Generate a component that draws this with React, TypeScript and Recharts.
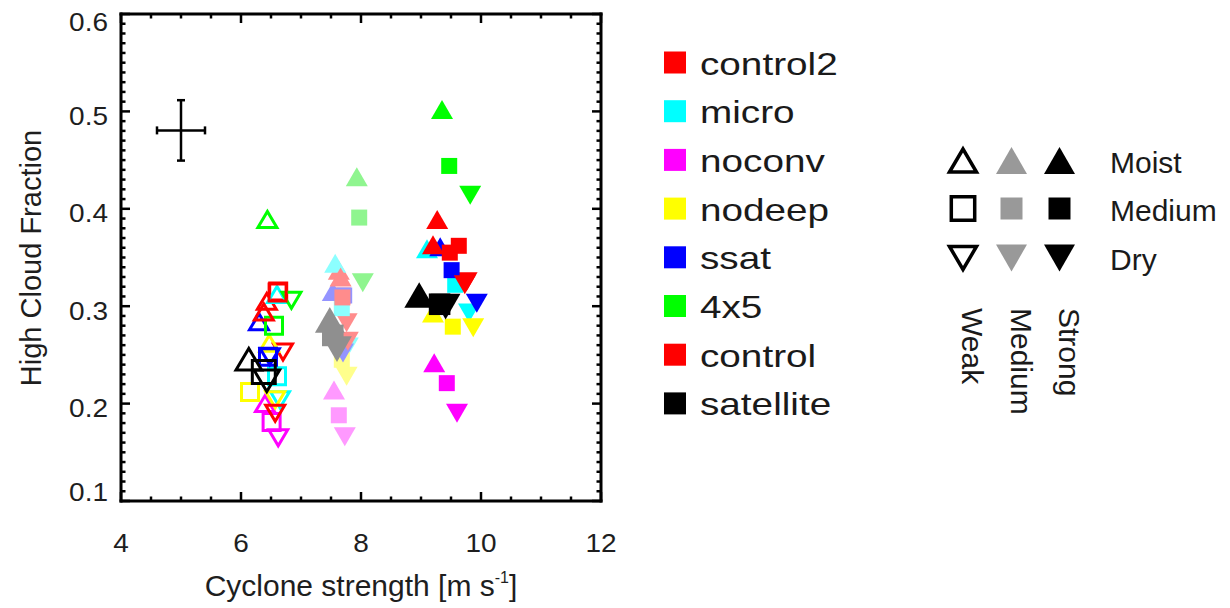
import React from 'react';
import { ScatterChart, Scatter, XAxis, YAxis, ErrorBar } from 'recharts';

const FONT = "'Liberation Sans', Arial, Helvetica, sans-serif";

const strengths = ['weak', 'medium', 'strong'];
const humidities = ['moist', 'medium', 'dry'];

const modelNames = ['control2', 'micro', 'noconv', 'nodeep', 'ssat', '4x5', 'control', 'satellite'];
const modelColors = ['#ff0000', '#00ffff', '#ff00ff', '#ffff00', '#0000ff', '#00ff00', '#ff0000', '#000000'];
const modelLight = ['#ff8c8c', '#8cffff', '#ff99ff', '#ffff8c', '#9494ff', '#8ff58f', '#ff8c8c', '#8f8f8f'];

// order: weak (moist, medium, dry), medium (moist, medium, dry), strong (moist, medium, dry)
const control2X = [6.43, 6.62, 6.7, 7.63, 7.7, 7.76, 9.27, 9.63, 9.76];
const control2Y = [0.305, 0.315, 0.253, 0.337, 0.311, 0.283, 0.389, 0.362, 0.325];
const microX = [6.6, 6.6, 6.65, 7.57, 7.68, 7.78, 9.1, 9.57, 9.8];
const microY = [0.312, 0.228, 0.204, 0.344, 0.298, 0.258, 0.359, 0.322, 0.293];
const noconvX = [6.4, 6.51, 6.62, 7.55, 7.63, 7.73, 9.22, 9.43, 9.6];
const noconvY = [0.2, 0.181, 0.165, 0.214, 0.188, 0.166, 0.242, 0.221, 0.19];
const nodeepX = [6.47, 6.15, 6.57, 7.6, 7.68, 7.76, 9.2, 9.53, 9.87];
const nodeepY = [0.262, 0.212, 0.204, 0.272, 0.245, 0.228, 0.293, 0.279, 0.278];
const ssatX = [6.3, 6.45, 6.48, 7.53, 7.72, 7.7, 9.32, 9.51, 9.93];
const ssatY = [0.284, 0.248, 0.248, 0.315, 0.311, 0.252, 0.361, 0.337, 0.303];
const fourByFiveX = [6.44, 6.55, 6.84, 7.93, 7.97, 8.03, 9.35, 9.47, 9.82];
const fourByFiveY = [0.389, 0.28, 0.306, 0.433, 0.391, 0.324, 0.502, 0.444, 0.414];
const controlX = [6.38, 6.61, 6.57, 7.66, 7.69, 7.78, 9.2, 9.48, 9.73];
const controlY = [0.294, 0.314, 0.19, 0.33, 0.309, 0.264, 0.363, 0.355, 0.322];
const satelliteX = [6.13, 6.38, 6.43, 7.48, 7.53, 7.6, 8.97, 9.31, 9.41];
const satelliteY = [0.2455, 0.2325, 0.2235, 0.286, 0.27, 0.256, 0.3115, 0.302, 0.2995];

const allX = [control2X, microX, noconvX, nodeepX, ssatX, fourByFiveX, controlX, satelliteX];
const allY = [control2Y, microY, noconvY, nodeepY, ssatY, fourByFiveY, controlY, satelliteY];

// typical uncertainty cross
const errPoint = [{ x: 5, y: 0.4805, ex: 0.4, ey: 0.031 }];

const xTicks = [4, 4.5, 5, 5.5, 6, 6.5, 7, 7.5, 8, 8.5, 9, 9.5, 10, 10.5, 11, 11.5, 12];
const yTicks = Array.from({ length: 51 }, (_, i) => Math.round((0.1 + i * 0.01) * 100) / 100);

const seriesData = modelNames.map((_, m) =>
  allX[m].map((x, i) => ({
    x,
    y: allY[m][i],
    str: strengths[Math.floor(i / 3)],
    hum: humidities[i % 3],
  }))
);

const isMajorX = (v: number) => Math.abs(v / 2 - Math.round(v / 2)) < 1e-6;
const isMajorY = (v: number) => Math.abs(v * 10 - Math.round(v * 10)) < 1e-6;

function shapePath(kind: string, cx: number, cy: number, hw: number, hh: number, hs: number) {
  if (kind === 'moist') return `M${cx - hw},${cy + hh}L${cx},${cy - hh}L${cx + hw},${cy + hh}Z`;
  if (kind === 'dry') return `M${cx - hw},${cy - hh}L${cx},${cy + hh}L${cx + hw},${cy - hh}Z`;
  return `M${cx - hs},${cy - hs}h${2 * hs}v${2 * hs}h${-2 * hs}Z`;
}

function Marker({ cx, cy, payload, model }: any) {
  if (cx == null || cy == null) return <g />;
  const k = model === 7 ? 1.35 : 1;
  const open = payload.str === 'weak';
  const color = payload.str === 'medium' ? modelLight[model] : modelColors[model];
  const hw = (open ? 9.5 : 11) * k;
  const hh = (open ? 8 : 9.5) * k;
  const hs = (open ? 8.5 : 8) * k;
  return (
    <path
      d={shapePath(payload.hum, cx, cy, hw, hh, hs)}
      fill={open ? 'none' : color}
      stroke={open ? color : 'none'}
      strokeWidth={3}
      strokeLinejoin="miter"
    />
  );
}

const tickText = { fontFamily: FONT, fontSize: 25, fill: '#1e1e1e' };

function BottomTick({ x, y, payload }: any) {
  const major = isMajorX(payload.value);
  return (
    <g>
      <line x1={x} y1={y} x2={x} y2={y - (major ? 9 : 4.5)} stroke="#000" strokeWidth={2.5} />
      {major && (
        <text transform={`translate(${x},${y + 51}) scale(1.12,1)`} textAnchor="middle" {...tickText}>
          {payload.value}
        </text>
      )}
    </g>
  );
}

function TopTick({ x, y, payload }: any) {
  const major = isMajorX(payload.value);
  return <line x1={x} y1={y} x2={x} y2={y + (major ? 9 : 4.5)} stroke="#000" strokeWidth={2.5} />;
}

function LeftTick({ x, y, payload }: any) {
  const v = payload.value;
  const major = isMajorY(v);
  const shift = v > 0.595 ? 8 : v < 0.105 ? -9 : 4.5;
  return (
    <g>
      <line x1={x} y1={y} x2={x + (major ? 9 : 4.5)} y2={y} stroke="#000" strokeWidth={2.5} />
      {major && (
        <text
          transform={`translate(${x - 13},${y + shift + 9}) scale(1.12,1)`}
          textAnchor="end"
          {...tickText}
        >
          {v.toFixed(1)}
        </text>
      )}
    </g>
  );
}

function RightTick({ x, y, payload }: any) {
  const major = isMajorY(payload.value);
  return <line x1={x} y1={y} x2={x - (major ? 9 : 4.5)} y2={y} stroke="#000" strokeWidth={2.5} />;
}

const legendRows = [62.5, 111.2, 159.9, 208.6, 257.3, 306, 354.7, 403.4];
const keyCols = [963, 1011.5, 1059.5];
const keyRows = [160.5, 208.5, 258];
const keyColors = ['#000', '#999', '#000'];

function Legends() {
  return (
    <svg width={1230} height={608} style={{ position: 'absolute', left: 0, top: 0, pointerEvents: 'none' }}>
      {modelNames.map((name, m) => (
        <g key={name}>
          <rect x={664} y={legendRows[m] - 11} width={22} height={22} fill={modelColors[m]} />
          <text
            transform={`translate(700,${legendRows[m] + 12}) scale(1.21,1)`}
            fontFamily={FONT}
            fontSize={32}
            fill="#1a1a1a"
          >
            {name}
          </text>
        </g>
      ))}

      {strengths.map((s, c) =>
        humidities.map((h, r) => {
          const open = c === 0;
          return (
            <path
              key={s + h}
              d={shapePath(h, keyCols[c], keyRows[r], open ? 13.5 : 15.5, open ? 11.5 : 13.5, open ? 11.7 : 11)}
              fill={open ? 'none' : keyColors[c]}
              stroke={open ? keyColors[c] : 'none'}
              strokeWidth={3.5}
            />
          );
        })
      )}
      {['Moist', 'Medium', 'Dry'].map((t, r) => (
        <text key={t} x={1110} y={keyRows[r] + 12} fontFamily={FONT} fontSize={30} fill="#1a1a1a">
          {t}
        </text>
      ))}
      {['Weak', 'Medium', 'Strong'].map((t, c) => (
        <text
          key={t}
          transform={`translate(${keyCols[c] - 1},308) rotate(90)`}
          fontFamily={FONT}
          fontSize={30}
          fill="#1a1a1a"
        >
          {t}
        </text>
      ))}

      <text x={361} y={596} textAnchor="middle" fontFamily={FONT} fontSize={30} fill="#1e1e1e">
        Cyclone strength [m s
        <tspan fontSize={16} dy={-13}>-1</tspan>
        <tspan dy={13}>]</tspan>
      </text>
      <text
        transform="translate(41,258) rotate(-90)"
        textAnchor="middle"
        fontFamily={FONT}
        fontSize={29}
        fill="#1e1e1e"
      >
        High Cloud Fraction
      </text>
    </svg>
  );
}

export default function App() {
  return (
    <div style={{ position: 'absolute', left: 0, top: 0, width: 1230, height: 608, background: '#fff' }}>
      <ScatterChart width={1230} height={608} margin={{ top: 4, right: 619, bottom: 57, left: 0 }}>
        <XAxis
          dataKey="x"
          type="number"
          domain={[4, 12]}
          ticks={xTicks}
          interval={0}
          height={50}
          tickSize={0}
          tickMargin={0}
          tickLine={false}
          tick={<BottomTick />}
          axisLine={{ stroke: '#000', strokeWidth: 3, strokeLinecap: 'square' }}
        />
        <XAxis
          xAxisId="top"
          orientation="top"
          dataKey="x"
          type="number"
          domain={[4, 12]}
          ticks={xTicks}
          interval={0}
          height={10}
          tickSize={0}
          tickMargin={0}
          tickLine={false}
          tick={<TopTick />}
          axisLine={{ stroke: '#000', strokeWidth: 3, strokeLinecap: 'square' }}
        />
        <YAxis
          dataKey="y"
          type="number"
          domain={[0.1, 0.6]}
          ticks={yTicks}
          interval={0}
          width={121}
          tickSize={0}
          tickMargin={0}
          tickLine={false}
          tick={<LeftTick />}
          axisLine={{ stroke: '#000', strokeWidth: 3, strokeLinecap: 'square' }}
        />
        <YAxis
          yAxisId="right"
          orientation="right"
          dataKey="y"
          type="number"
          domain={[0.1, 0.6]}
          ticks={yTicks}
          interval={0}
          width={10}
          tickSize={0}
          tickMargin={0}
          tickLine={false}
          tick={<RightTick />}
          axisLine={{ stroke: '#000', strokeWidth: 3, strokeLinecap: 'square' }}
        />
        <Scatter
          data={errPoint}
          xAxisId="top"
          yAxisId="right"
          isAnimationActive={false}
          shape={() => <g />}
        />
        <Scatter data={errPoint} isAnimationActive={false} shape={() => <g />}>
          <ErrorBar dataKey="ex" direction="x" width={4} stroke="#000" strokeWidth={2.5} isAnimationActive={false} />
          <ErrorBar dataKey="ey" direction="y" width={4} stroke="#000" strokeWidth={2.5} isAnimationActive={false} />
        </Scatter>
        {modelNames.map((name, m) => (
          <Scatter
            key={name}
            name={name}
            data={seriesData[m]}
            isAnimationActive={false}
            shape={(p: any) => <Marker {...p} model={m} />}
          />
        ))}
      </ScatterChart>
      <Legends />
    </div>
  );
}
